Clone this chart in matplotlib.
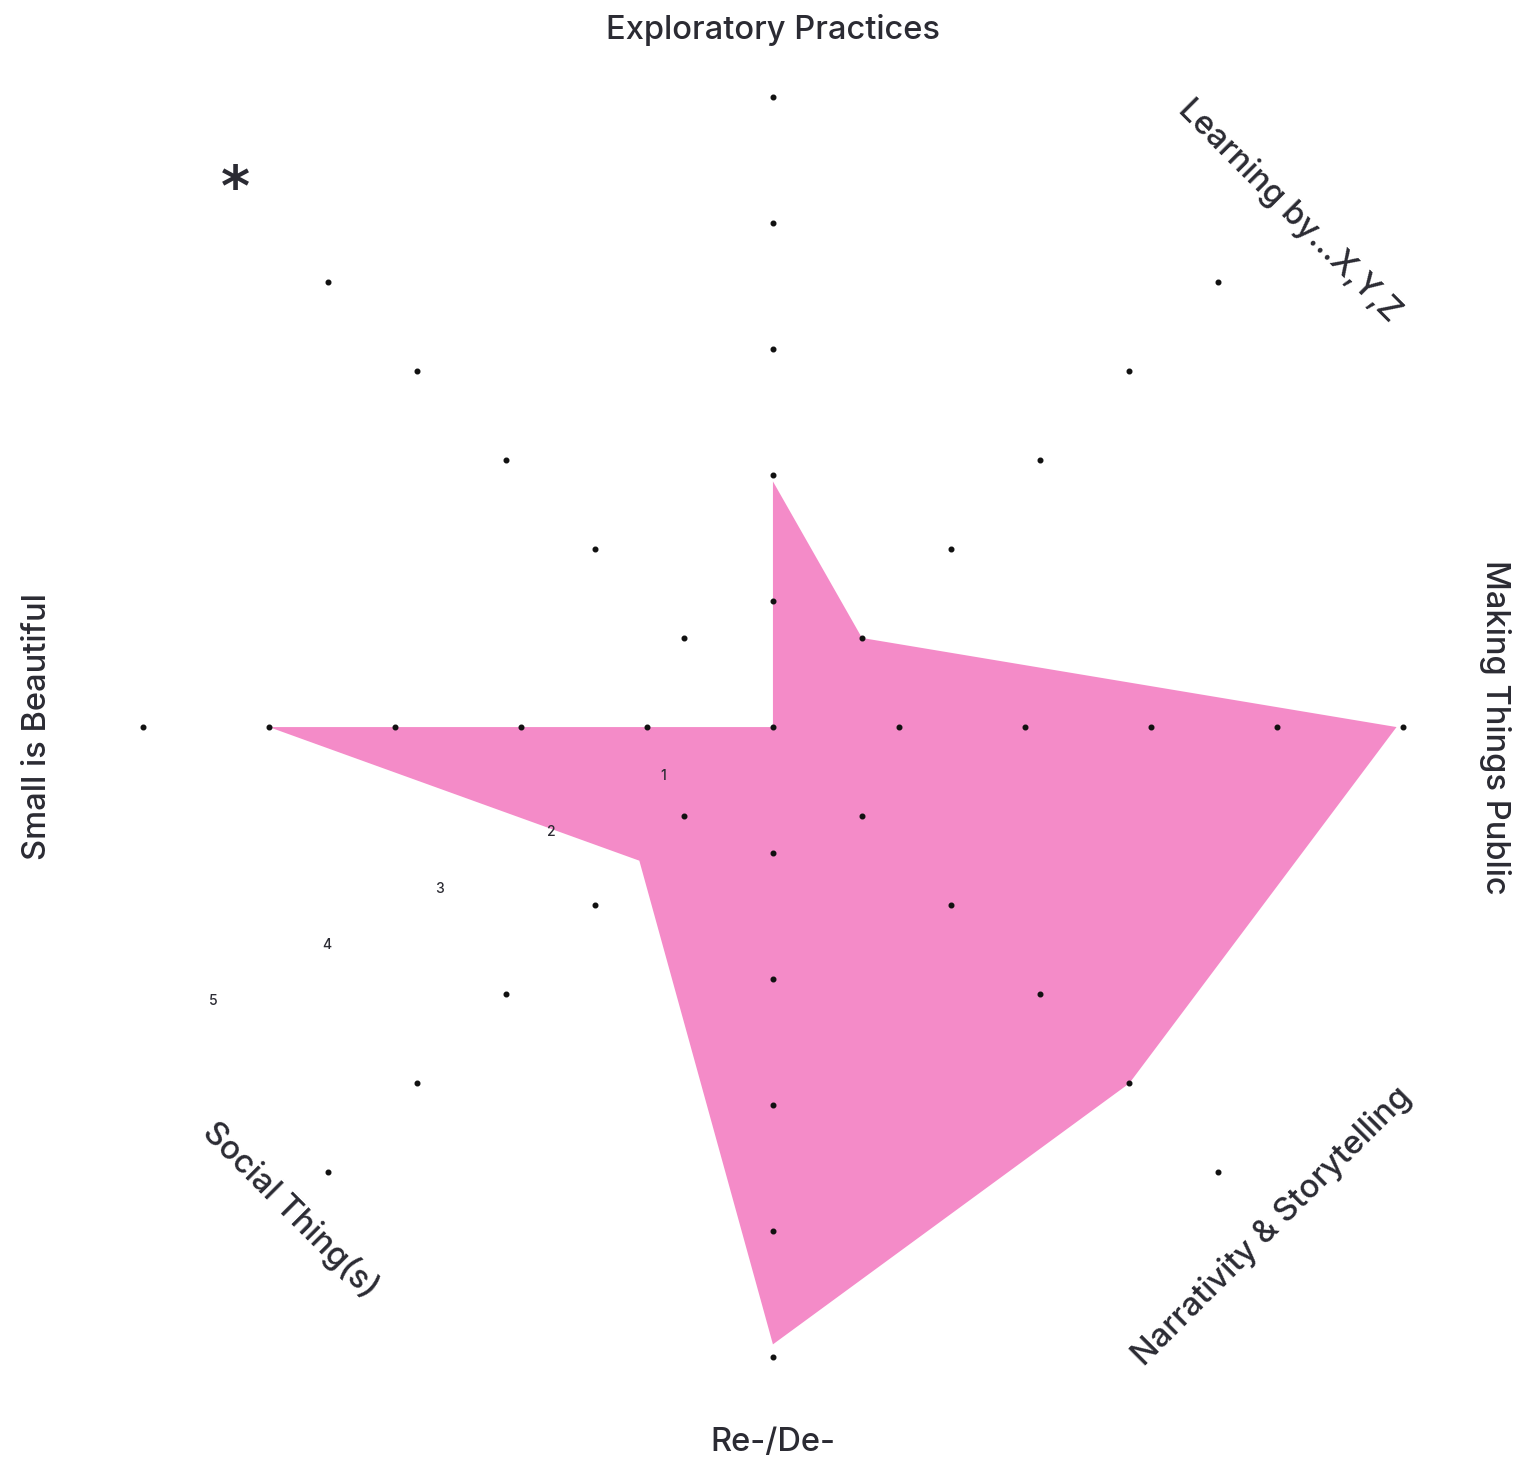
"""Radar chart: practice profile across eight dimensions."""

import matplotlib.pyplot as plt
import numpy as np

CATEGORIES = [
    "Exploratory Practices",
    "Learning by...X,Y,Z",
    "Making Things Public",
    "Narrativity & Storytelling",
    "Re-/De-",
    "Social Thing(s)",
    "Small is Beautiful",
    "*",
]
VALUES = [1.95, 1.0, 4.95, 4.0, 4.9, 1.5, 4.0, 0.0]
LEVELS = [1, 2, 3, 4, 5]
LEVEL_LABELS = ["1", "2", "3", "4", "5"]

# label radius and rotation per category
LABEL_R = [5.53, 5.8, 5.73, 5.6, 5.68, 5.42, 5.84, 6.03]
LABEL_ROT = [0, -45, -90, 45, 0, -45, 90, 0]

PINK = "#f48bc8"
TEXT = "#2b2b33"

plt.rcParams["font.family"] = ["Inter", "DejaVu Sans"]

n = len(CATEGORIES)
angles = np.linspace(0, 2 * np.pi, n, endpoint=False)

fig = plt.figure(figsize=(15.19, 14.70), dpi=100)
ax = fig.add_axes([0.0941, 0.0769, 0.8295, 0.857], projection="polar")
ax.set_theta_zero_location("N")
ax.set_theta_direction(-1)
ax.set_ylim(0, 5)

# filled profile
closed_a = np.append(angles, angles[0])
closed_v = np.append(VALUES, VALUES[0])
ax.fill(closed_a, closed_v, color=PINK, linewidth=0, zorder=1)

# grid dots on every spoke
dot_a = np.repeat(angles, len(LEVELS))
dot_r = np.tile(LEVELS, n)
ax.scatter(dot_a, dot_r, s=11, color="#111111", zorder=3, clip_on=False)
ax.scatter([0], [0], s=11, color="#111111", zorder=3)

ax.grid(False)
ax.spines["polar"].set_visible(False)
ax.set_xticks([])
ax.set_yticks(LEVELS)
ax.set_yticklabels(LEVEL_LABELS, fontsize=10, color=TEXT, fontweight="medium")
ax.set_rlabel_position(243.5)
ax.tick_params(axis="y", pad=12)

for ang, name, r, rot in zip(angles, CATEGORIES, LABEL_R, LABEL_ROT, strict=True):
    star = name == "*"
    ax.text(ang, r, name, ha="center", va="center", rotation=rot,
            rotation_mode="anchor", fontsize=40 if star else 23.5, color=TEXT,
            fontweight="bold" if star else "medium",
            family=["DejaVu Sans"] if star else None)

fig.savefig("out.png", dpi=100)
